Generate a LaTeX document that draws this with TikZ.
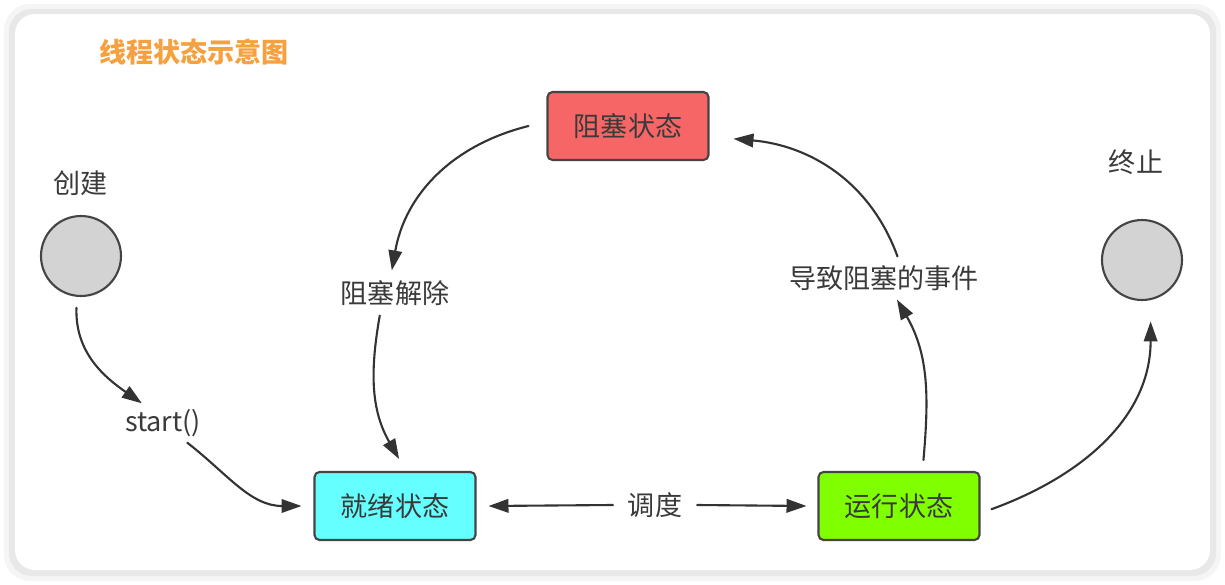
\documentclass[tikz,border=0pt]{standalone}
\usepackage{fontspec}
\setmainfont{Noto Sans CJK SC}
\usepackage{tikz}
\usetikzlibrary{arrows.meta}
\usepackage{xcolor}
\definecolor{titleorange}{HTML}{F6A13F}
\definecolor{edgegray}{HTML}{444444}
\definecolor{textgray}{HTML}{3A3A3A}
\definecolor{arrowgray}{HTML}{333333}
\definecolor{dotgray}{HTML}{D3D3D3}
\definecolor{readycyan}{HTML}{66FFFF}
\definecolor{blockred}{HTML}{F76666}
\definecolor{rungreen}{HTML}{80FF00}

\begin{document}
\begin{tikzpicture}[x=0.02cm,y=0.02cm,>={Triangle[length=4mm,width=2.7mm]},
  font=\fontsize{15.4pt}{18pt}\selectfont,line cap=round,
  state/.style={draw=edgegray,line width=1.2pt,rounded corners=0.1cm,minimum width=3.22cm,minimum height=1.36cm,text=textgray},
  dot/.style={circle,draw=edgegray,line width=1.2pt,fill=dotgray,minimum size=1.6cm,inner sep=0pt},
  lbl/.style={inner sep=0pt,text=textgray},
  link/.style={->,draw=arrowgray,line width=1.2pt}]
\useasboundingbox (0,0) rectangle (1225,-585);
\fill[gray!8,rounded corners=0.52cm] (4,-4) rectangle (1221,-581);
\fill[gray!18,rounded corners=0.46cm] (9,-9) rectangle (1216,-576);
\fill[white,rounded corners=0.4cm] (15,-14) rectangle (1210,-570);
\node[lbl,text=titleorange,font=\fontsize{15.4pt}{18pt}\selectfont\bfseries] (title) at (194,-52) {线程状态示意图};
\node[lbl] (createtxt) at (81,-183) {创建};
\node[dot,outer sep=0.24cm] (create) at (81,-256) {};
\node[lbl,outer sep=0.12cm] (start) at (163,-423) {start()};
\node[state,fill=readycyan,outer sep=0.26cm] (ready) at (395,-506) {就绪状态};
\node[state,fill=blockred,outer sep=0.38cm] (blocked) at (628,-126) {阻塞状态};
\node[state,fill=rungreen,outer sep=0.24cm] (running) at (899,-506) {运行状态};
\node[lbl,outer sep=0.3cm] (sched) at (655,-505) {调度};
\node[lbl,outer sep=0.2cm] (unblock) at (395,-293) {阻塞解除};
\node[lbl,outer sep=0.18cm] (event) at (884,-278) {导致阻塞的事件};
\node[lbl] (endtxt) at (1136,-162) {终止};
\node[dot,outer sep=0.44cm] (term) at (1142,-260) {};
\draw[link] (create.-95) to[out=-92,in=145] (start.137);
\draw[link] (start.-39) to[out=-38,in=180] (ready.west);
\draw[link] (blocked.west) to[out=194,in=80] (unblock.98);
\draw[link] (unblock.-124) to[out=-100,in=120] (ready.85);
\draw[link] (sched.west) -- (ready.east);
\draw[link] (sched.east) -- (running.west);
\draw[link] (running.62) to[out=85,in=-60] (event.-59);
\draw[link,shorten >=0.12cm] (event.58) to[out=110,in=-5] (blocked.-7);
\draw[link] (running.-2) to[out=20,in=-90] (term.-82);
\end{tikzpicture}
\end{document}
